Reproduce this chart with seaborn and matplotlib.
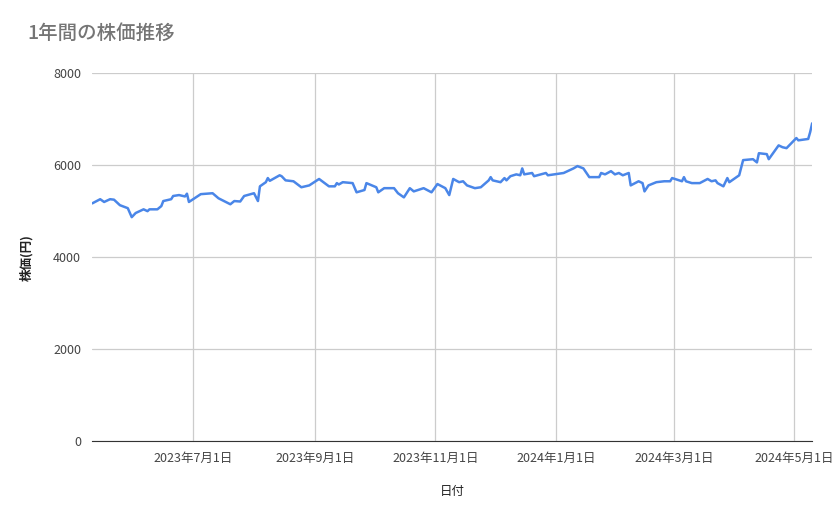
import pandas as pd
import matplotlib
matplotlib.use("Agg")
import matplotlib.pyplot as plt
import seaborn as sns

# data
dates = [
    "2023-05-11", "2023-05-15", "2023-05-17", "2023-05-20", "2023-05-22", "2023-05-25",
    "2023-05-29", "2023-05-31", "2023-06-02", "2023-06-06", "2023-06-08", "2023-06-09",
    "2023-06-13", "2023-06-15", "2023-06-16", "2023-06-20", "2023-06-21", "2023-06-24",
    "2023-06-27", "2023-06-28", "2023-06-29", "2023-07-05", "2023-07-11", "2023-07-14",
    "2023-07-20", "2023-07-22", "2023-07-25", "2023-07-27", "2023-08-01", "2023-08-03",
    "2023-08-04", "2023-08-07", "2023-08-08", "2023-08-09", "2023-08-14", "2023-08-15",
    "2023-08-17", "2023-08-21", "2023-08-25", "2023-08-29", "2023-09-03", "2023-09-08",
    "2023-09-11", "2023-09-12", "2023-09-13", "2023-09-15", "2023-09-20", "2023-09-22",
    "2023-09-26", "2023-09-27", "2023-10-02", "2023-10-03", "2023-10-06", "2023-10-11",
    "2023-10-13", "2023-10-16", "2023-10-19", "2023-10-21", "2023-10-26", "2023-10-30",
    "2023-11-02", "2023-11-06", "2023-11-08", "2023-11-10", "2023-11-13", "2023-11-15",
    "2023-11-17", "2023-11-21", "2023-11-24", "2023-11-28", "2023-11-29", "2023-11-30",
    "2023-12-04", "2023-12-06", "2023-12-07", "2023-12-09", "2023-12-12", "2023-12-14",
    "2023-12-15", "2023-12-16", "2023-12-20", "2023-12-21", "2023-12-27", "2023-12-28",
    "2024-01-05", "2024-01-10", "2024-01-12", "2024-01-15", "2024-01-18", "2024-01-23",
    "2024-01-24", "2024-01-26", "2024-01-29", "2024-01-31", "2024-02-02", "2024-02-04",
    "2024-02-07", "2024-02-08", "2024-02-12", "2024-02-14", "2024-02-15", "2024-02-17",
    "2024-02-21", "2024-02-25", "2024-02-28", "2024-02-29", "2024-03-05", "2024-03-06",
    "2024-03-07", "2024-03-10", "2024-03-14", "2024-03-18", "2024-03-20", "2024-03-22",
    "2024-03-23", "2024-03-26", "2024-03-28", "2024-03-29", "2024-04-03", "2024-04-05",
    "2024-04-10", "2024-04-12", "2024-04-13", "2024-04-17", "2024-04-18", "2024-04-23",
    "2024-04-25", "2024-04-27", "2024-05-02", "2024-05-03", "2024-05-08", "2024-05-09",
    "2024-05-10",
]
prices = [
    5170, 5260, 5200, 5260, 5250, 5130,
    5065, 4870, 4960, 5040, 5000, 5040,
    5040, 5110, 5220, 5260, 5330, 5350,
    5320, 5380, 5200, 5370, 5390, 5280,
    5150, 5220, 5210, 5330, 5390, 5220,
    5540, 5630, 5720, 5660, 5780, 5760,
    5670, 5650, 5520, 5560, 5700, 5540,
    5540, 5610, 5580, 5630, 5610, 5410,
    5460, 5610, 5520, 5410, 5500, 5500,
    5390, 5300, 5500, 5430, 5500, 5410,
    5590, 5500, 5350, 5700, 5630, 5650,
    5560, 5500, 5520, 5670, 5740, 5670,
    5630, 5720, 5670, 5760, 5800, 5780,
    5930, 5800, 5830, 5760, 5830, 5780,
    5830, 5930, 5980, 5930, 5740, 5740,
    5830, 5800, 5870, 5800, 5830, 5780,
    5830, 5560, 5650, 5610, 5430, 5560,
    5630, 5650, 5650, 5720, 5650, 5740,
    5650, 5610, 5610, 5700, 5650, 5670,
    5610, 5540, 5720, 5630, 5780, 6110,
    6130, 6060, 6260, 6240, 6130, 6430,
    6390, 6370, 6590, 6540, 6570, 6720,
    6910,
]
tick_dates = ["2023-07-01", "2023-09-01", "2023-11-01", "2024-01-01", "2024-03-01", "2024-05-01"]
y_ticks = [0, 2000, 4000, 6000, 8000]

df = pd.DataFrame({"日付": pd.to_datetime(dates), "株価": prices})

sns.set_style("white")
plt.rcParams["font.family"] = ["Noto Sans CJK JP", "DejaVu Sans"]

fig, ax = plt.subplots(figsize=(8.39, 5.19), dpi=100)
fig.subplots_adjust(left=0.11, right=0.968, top=0.859, bottom=0.15)

sns.lineplot(data=df, x="日付", y="株価", color="#4a86e8", linewidth=1.8, ax=ax)

ticks = pd.to_datetime(tick_dates)
ax.set_xticks(ticks)
ax.set_xticklabels([f"{t.year}年{t.month}月{t.day}日" for t in ticks], fontsize=9, color="#444444")
ax.set_xlim(pd.Timestamp("2023-05-11"), pd.Timestamp("2024-05-10"))
ax.set_ylim(0, 8000)
ax.set_yticks(y_ticks)
ax.set_yticklabels([str(v) for v in y_ticks], fontsize=9, color="#444444")
ax.grid(True, color="#cccccc", linewidth=0.9)
ax.tick_params(length=0, pad=8)
for s in ["top", "right", "left"]:
    ax.spines[s].set_visible(False)
ax.spines["bottom"].set_color("#333333")

ax.set_xlabel("日付", fontsize=9, color="#222222", labelpad=14)
ax.set_ylabel("株価(円)", fontsize=9, color="#222222", fontweight="bold", labelpad=14)
fig.text(0.033, 0.925, "1年間の株価推移", fontsize=14, color="#757575", fontweight="medium")

fig.savefig("out.png", dpi=100)
